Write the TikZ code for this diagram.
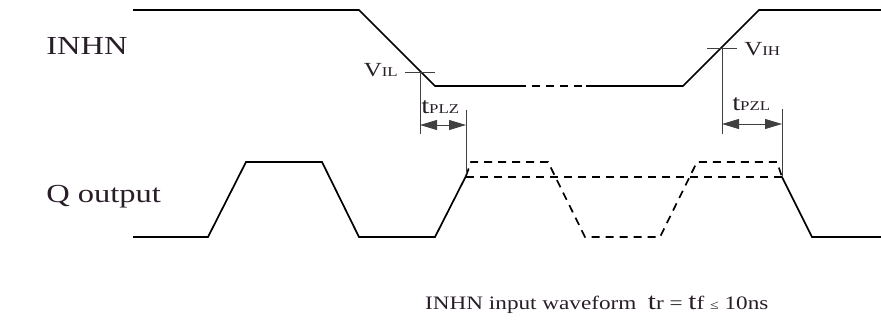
\documentclass[tikz,border=0pt]{standalone}
\usepackage{fontspec}
\setmainfont{Liberation Serif}
\usetikzlibrary{arrows.meta}
\definecolor{txt}{RGB}{40,30,40}
\newcommand\bigfs{\fontsize{26}{29}\selectfont}
\newcommand\vfs{\fontsize{20}{22}\selectfont}
\newcommand\tfs{\fontsize{23}{25}\selectfont}
\newcommand\smfs{\fontsize{13.5}{15}\selectfont}
\newcommand\botfs{\fontsize{19}{22}\selectfont}
\newcommand\botbig{\fontsize{24}{26}\selectfont}
\newcommand\botsm{\fontsize{13}{15}\selectfont}
\begin{document}
\begin{tikzpicture}[x=1pt,y=-1pt,
  wave/.style={line width=1.7pt, line join=miter},
  dwave/.style={wave, dash pattern=on 8pt off 6pt},
  guide/.style={line width=0.8pt, draw=black!75},
  lab/.style={text=txt, inner sep=0pt, xscale=1.25},
  slab/.style={text=txt, inner sep=0pt, xscale=1.25},
  tarrow/.style={guide, {Triangle[length=17pt,width=10pt]}-{Triangle[length=17pt,width=10pt]}}]
\useasboundingbox (0,0) rectangle (881,323);

% ---------- INHN waveform ----------
\coordinate (i0) at (133,10);
\coordinate (i1) at (359,10);
\coordinate (i2) at (435,86);
\coordinate (i3) at (518,86);
\coordinate (i4) at (586,86);
\coordinate (i5) at (683,86);
\coordinate (i6) at (759,10);
\coordinate (i7) at (881,10);
\draw[wave] (i0) -- (i1) -- (i2) -- (i3);
\draw[dwave] (i3) -- (i4);
\draw[wave] (i4) -- (i5) -- (i6) -- (i7);

% ---------- Q output waveform ----------
\coordinate (q0) at (133,237);
\coordinate (q1) at (208,237);
\coordinate (q2) at (246,162);
\coordinate (q3) at (322,162);
\coordinate (q4) at (359,237);
\coordinate (q5) at (435,237);
\coordinate (q6) at (466,176);
\draw[wave] (q0) -- (q1) -- (q2) -- (q3) -- (q4) -- (q5) -- (q6);
% high-Z dashed paths
\coordinate (d0) at (471,162);
\coordinate (d1) at (548,162);
\coordinate (d2) at (585,237);
\coordinate (d3) at (660,237);
\coordinate (d4) at (697,162);
\coordinate (d5) at (777,162);
\coordinate (d6) at (782,177);
\coordinate (m0) at (466,177);
\draw[dwave] (q6) -- (d0) -- (d1) -- (d2) -- (d3) -- (d4) -- (d5) -- (d6);
\draw[dwave] (m0) -- (d6);
\coordinate (r1) at (812,237);
\coordinate (r2) at (881,237);
\draw[wave] (d6) -- (r1) -- (r2);

% ---------- guides ----------
\coordinate (vil) at (420,72);
\coordinate (vilL) at (405,72);
\coordinate (vilR) at (435,72);
\coordinate (vilB) at (420,134);
\draw[guide] (vilL) -- (vilR);
\draw[guide] (vil) -- (vilB);
\coordinate (plzT) at (466,110);
\coordinate (plzB) at (466,174);
\draw[guide] (plzT) -- (plzB);
\coordinate (aL1) at (420,125);
\coordinate (aR1) at (466,125);
\draw[tarrow] (aL1) -- (aR1);

\coordinate (vih) at (722,48);
\coordinate (vihL) at (707,48);
\coordinate (vihR) at (737,48);
\coordinate (vihB) at (722,134);
\draw[guide] (vihL) -- (vihR);
\draw[guide] (vih) -- (vihB);
\coordinate (pzlT) at (782,109);
\coordinate (pzlB) at (782,177);
\draw[guide] (pzlT) -- (pzlB);
\coordinate (aL2) at (722,124);
\coordinate (aR2) at (782,124);
\draw[tarrow] (aL2) -- (aR2);

% ---------- labels ----------
\node[lab, anchor=base west, font=\bigfs] (inhn) at (46,55) {INHN};
\node[lab, anchor=base west, font=\bigfs] (qout) at (46,203) {Q output};
\node[slab, anchor=base east] (lvil) at (398,77) {{\vfs V}{\smfs IL}};
\node[slab, anchor=base west] (ltplz) at (421,114) {{\tfs t}{\smfs PLZ}};
\node[slab, anchor=base west] (lvih) at (744,56) {{\vfs V}{\smfs IH}};
\node[slab, anchor=base west] (ltpzl) at (732,111) {{\tfs t}{\smfs PZL}};
\node[text=txt, inner sep=0pt, xscale=1.22, anchor=base west] (note) at (425,309)
  {{\botfs INHN input waveform\ \ }{\botbig t}{\botfs r = }{\botbig t}{\botfs f }{\botsm ≤}{\botfs\ 10ns}};
\end{tikzpicture}
\end{document}
